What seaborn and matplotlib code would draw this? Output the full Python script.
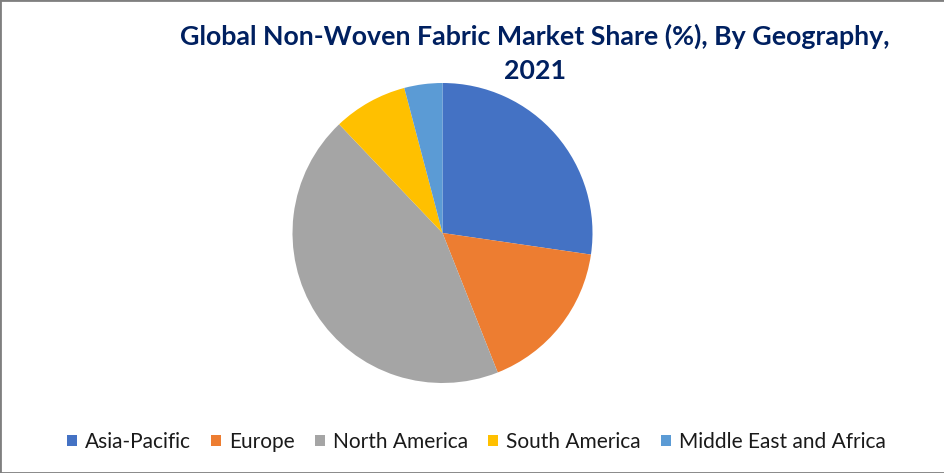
import matplotlib
matplotlib.use("Agg")
import matplotlib.pyplot as plt
from matplotlib.patches import Rectangle
import seaborn as sns

# values
regions = ["Asia-Pacific", "Europe", "North America", "South America", "Middle East and Africa"]
shares = [27.3, 16.7, 43.9, 8.0, 4.1]
colors = ["#4472C4", "#ED7D31", "#A5A5A5", "#FFC000", "#5B9BD5"]

sns.set_theme(style="white")
plt.rcParams['font.family'] = ['Lato', 'DejaVu Sans']

fig = plt.figure(figsize=(9.45, 4.73), dpi=100)
fig.add_artist(Rectangle((0, 0), 1, 1, transform=fig.transFigure, fill=False, edgecolor="#7F7F7F", linewidth=2))

# pie centre (442, 233), radius 150 px
ax = fig.add_axes([292.5 / 945, 1 - 383 / 473, 300 / 945, 300 / 473])
wedges, _ = ax.pie(shares, colors=colors, startangle=90, counterclock=False, radius=1,
                   wedgeprops={"linewidth": 0})
ax.set_xlim(-1, 1)
ax.set_ylim(-1, 1)

fig.text(535 / 945, 1 - 36 / 473, "Global Non-Woven Fabric Market Share (%), By Geography,",
         ha="center", va="center", fontsize=19.3, fontweight="bold", color="#002060")
fig.text(535 / 945, 1 - 71 / 473, "2021",
         ha="center", va="center", fontsize=19.3, fontweight="bold", color="#002060")

fig.legend(wedges, regions, ncol=5, loc="center", bbox_to_anchor=(476.5 / 945, 1 - 442 / 473),
           frameon=False, fontsize=15, handlelength=0.48, handleheight=0.48,
           handletextpad=0.4, columnspacing=0.95, labelcolor="#1A1A1A")

fig.savefig("out.png", dpi=100)
